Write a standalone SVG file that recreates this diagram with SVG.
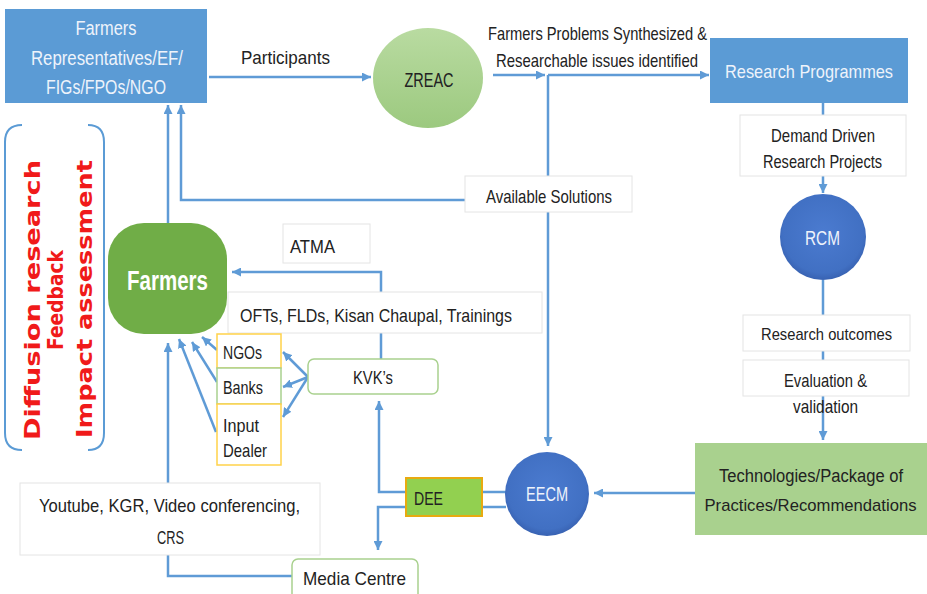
<svg xmlns="http://www.w3.org/2000/svg" width="927" height="594" viewBox="0 0 927 594">
  <style>
    text { font-family: "Liberation Sans", Arial, sans-serif; font-size: 19px; fill: #222222; }
    .c { text-anchor: middle; }
    .light { fill: #eef3fb; }
    .lg { font-size: 21px; }
    .f20 { font-size: 20px; }
    .f18 { font-size: 18px; }
    .f17 { font-size: 17px; }
    .side { font-family: "DejaVu Sans", Verdana, sans-serif; font-weight: bold; font-size: 21px; fill: #f01a1a; text-anchor: middle; }
    .big { font-weight: bold; font-size: 28px; fill: #ffffff; }
    .wire { fill: none; stroke: #5f9bd6; stroke-width: 2.5; }
    .arr { marker-end: url(#head); }
    .label { fill: #ffffff; stroke: #e4e4e4; stroke-width: 1; }
    .blue { fill: #5b9bd5; }
    .gold { fill: #ffffff; stroke: #ffd24a; stroke-width: 1.5; }
    .lgreen { fill: #ffffff; stroke: #a9d18e; stroke-width: 1.5; }
  </style>
  <defs>
    <marker id="head" viewBox="0 0 10 10" refX="10" refY="5" markerWidth="9" markerHeight="9" markerUnits="userSpaceOnUse" orient="auto">
      <path d="M0,0 L10,5 L0,10 z" fill="#5f9bd6"/>
    </marker>
    <linearGradient id="greenOval" x1="0" y1="0" x2="0" y2="1">
      <stop offset="0" stop-color="#b9dba1"/>
      <stop offset="1" stop-color="#9cc97f"/>
    </linearGradient>
    <radialGradient id="blueBall" cx="0.5" cy="0.45" r="0.55">
      <stop offset="0" stop-color="#4b7bd0"/>
      <stop offset="0.85" stop-color="#4170c3"/>
      <stop offset="1" stop-color="#3862b2"/>
    </radialGradient>
  </defs>

  <rect width="927" height="594" fill="#ffffff"/>

  <!-- side note: bracketed red caption -->
  <g id="side-note">
    <path d="M22,125 Q5,125 5,142 L5,433 Q5,450 22,450" fill="none" stroke="#5b9bd5" stroke-width="2"/>
    <path d="M88,125 Q104,125 104,142 L104,433 Q104,450 88,450" fill="none" stroke="#5b9bd5" stroke-width="2"/>
    <text class="side" transform="translate(40,300) rotate(-90)" textLength="280" lengthAdjust="spacingAndGlyphs">Diffusion research</text>
    <text class="side" transform="translate(63,300) rotate(-90)" textLength="100" lengthAdjust="spacingAndGlyphs">Feedback</text>
    <text class="side" transform="translate(92,299) rotate(-90)" textLength="278" lengthAdjust="spacingAndGlyphs">Impact assessment</text>
  </g>

  <!-- connectors -->
  <g id="connectors">
    <path class="wire arr" d="M209,77 H371"/>
    <path class="wire arr" d="M493,75 H545"/>
    <path class="wire arr" d="M548,75 H709"/>
    <path class="wire arr" d="M548,75 V446"/>
    <path class="wire" d="M823,103 V115"/>
    <path class="wire arr" d="M823,176 V193"/>
    <path class="wire" d="M823,280 V315"/>
    <path class="wire" d="M823,351 V360"/>
    <path class="wire arr" d="M823,396 V440"/>
    <path class="wire arr" d="M695,493 H594"/>
    <path class="wire" d="M482,492 H506"/>
    <path class="wire" d="M482,507 H506"/>
    <path class="wire arr" d="M406,492 H379 V401"/>
    <path class="wire arr" d="M406,507 H378 V550"/>
    <path class="wire arr" d="M168,224 V105"/>
    <path class="wire arr" d="M548,200 H181 V105"/>
    <path class="wire arr" d="M168,483 V343"/>
    <path class="wire" d="M168,555 V576 H292"/>
    <path class="wire arr" d="M381,359 V272 H232"/>
    <path class="wire arr" d="M308,377 L283,352"/>
    <path class="wire arr" d="M308,377 L283,387"/>
    <path class="wire arr" d="M308,377 L283,417"/>
    <path class="wire arr" d="M217,350 L202,337"/>
    <path class="wire arr" d="M217,382 L192,342"/>
    <path class="wire arr" d="M216,432 L179,339"/>
  </g>

  <g id="farmer-reps">
    <rect class="blue" x="5" y="9" width="202" height="94"/>
    <text class="c light f20" x="106" y="35" textLength="61" lengthAdjust="spacingAndGlyphs">Farmers</text>
    <text class="c light f20" x="107" y="65" textLength="152" lengthAdjust="spacingAndGlyphs">Representatives/EF/</text>
    <text class="c light f20" x="106" y="94" textLength="120" lengthAdjust="spacingAndGlyphs">FIGs/FPOs/NGO</text>
  </g>

  <g id="participants-label">
    <text class="c" x="285.5" y="64" textLength="89" lengthAdjust="spacingAndGlyphs">Participants</text>
  </g>

  <g id="zreac">
    <ellipse cx="428" cy="78" rx="55" ry="50" fill="url(#greenOval)"/>
    <text class="c lg" x="429" y="87" textLength="49" lengthAdjust="spacingAndGlyphs">ZREAC</text>
  </g>

  <g id="problems-label">
    <text class="c" x="597.5" y="40" textLength="219" lengthAdjust="spacingAndGlyphs">Farmers Problems Synthesized &amp;</text>
    <text class="c" x="597" y="67" textLength="202" lengthAdjust="spacingAndGlyphs">Researchable issues identified</text>
  </g>

  <g id="research-programmes">
    <rect class="blue" x="710" y="38" width="198" height="65"/>
    <text class="c light" x="809" y="78" textLength="168" lengthAdjust="spacingAndGlyphs">Research Programmes</text>
  </g>

  <g id="demand-driven">
    <rect class="label" x="740" y="115" width="166" height="61"/>
    <text class="c" x="823" y="142" textLength="104" lengthAdjust="spacingAndGlyphs">Demand Driven</text>
    <text class="c" x="822.5" y="168" textLength="119" lengthAdjust="spacingAndGlyphs">Research Projects</text>
  </g>

  <g id="available-solutions">
    <rect class="label" x="465" y="176" width="167" height="36"/>
    <text class="c" x="549" y="203" textLength="126" lengthAdjust="spacingAndGlyphs">Available Solutions</text>
  </g>

  <g id="rcm">
    <circle cx="823" cy="237" r="43" fill="url(#blueBall)"/>
    <text class="c light lg" x="822.5" y="245" textLength="35" lengthAdjust="spacingAndGlyphs">RCM</text>
  </g>

  <g id="research-outcomes">
    <rect class="label" x="743" y="315" width="167" height="36"/>
    <text class="c f17" x="826.5" y="340" textLength="131" lengthAdjust="spacingAndGlyphs">Research outcomes</text>
  </g>

  <g id="evaluation">
    <rect class="label" x="743" y="360" width="166" height="36"/>
    <text class="c" x="825.5" y="387" textLength="83" lengthAdjust="spacingAndGlyphs">Evaluation &amp;</text>
    <text class="c" x="825.5" y="413" textLength="65" lengthAdjust="spacingAndGlyphs">validation</text>
  </g>

  <g id="technologies">
    <rect x="695" y="443" width="232" height="92" fill="#a9d18e"/>
    <text class="c f18" x="811" y="482" textLength="184" lengthAdjust="spacingAndGlyphs">Technologies/Package of</text>
    <text class="c f17" x="810.5" y="511" textLength="212" lengthAdjust="spacingAndGlyphs">Practices/Recommendations</text>
  </g>

  <g id="eecm">
    <circle cx="547" cy="494" r="42" fill="url(#blueBall)"/>
    <text class="c light lg" x="547" y="501" textLength="42" lengthAdjust="spacingAndGlyphs">EECM</text>
  </g>

  <g id="dee">
    <rect x="406" y="478" width="76" height="38" fill="#92d050" stroke="#e8aa10" stroke-width="2"/>
    <text x="414" y="505" textLength="29" lengthAdjust="spacingAndGlyphs">DEE</text>
  </g>

  <g id="farmers">
    <rect x="108" y="223" width="119" height="111" rx="36" ry="36" fill="#70ad47"/>
    <text class="c big" x="167.5" y="290" textLength="81" lengthAdjust="spacingAndGlyphs">Farmers</text>
  </g>

  <g id="atma">
    <rect class="label" x="283" y="224" width="87" height="39"/>
    <text class="c" x="312.5" y="253" textLength="45" lengthAdjust="spacingAndGlyphs">ATMA</text>
  </g>

  <g id="extension-activities">
    <rect class="label" x="228" y="292" width="314" height="41"/>
    <text class="c" x="376" y="322" textLength="272" lengthAdjust="spacingAndGlyphs">OFTs, FLDs, Kisan Chaupal, Trainings</text>
  </g>

  <g id="ngos">
    <rect class="gold" x="217" y="334" width="64" height="34"/>
    <text x="223" y="359" textLength="39" lengthAdjust="spacingAndGlyphs">NGOs</text>
  </g>

  <g id="banks">
    <rect class="lgreen" x="217" y="368" width="64" height="36"/>
    <text x="223" y="394" textLength="40" lengthAdjust="spacingAndGlyphs">Banks</text>
  </g>

  <g id="input-dealer">
    <rect class="gold" x="217" y="404" width="64" height="61"/>
    <text x="223" y="432" textLength="36" lengthAdjust="spacingAndGlyphs">Input</text>
    <text x="223" y="457" textLength="44" lengthAdjust="spacingAndGlyphs">Dealer</text>
  </g>

  <g id="kvk">
    <rect class="lgreen" x="308" y="359" width="130" height="35" rx="6" ry="6"/>
    <text class="c" x="373" y="384" textLength="40" lengthAdjust="spacingAndGlyphs">KVK’s</text>
  </g>

  <g id="media-channels">
    <rect class="label" x="20" y="483" width="300" height="72"/>
    <text class="c" x="169.5" y="512" textLength="261" lengthAdjust="spacingAndGlyphs">Youtube, KGR, Video conferencing,</text>
    <text class="c" x="170.5" y="544" textLength="27" lengthAdjust="spacingAndGlyphs">CRS</text>
  </g>

  <g id="media-centre">
    <rect class="lgreen" x="292" y="559" width="126" height="42" rx="6" ry="6"/>
    <text class="c" x="354.5" y="585" textLength="103" lengthAdjust="spacingAndGlyphs">Media Centre</text>
  </g>
</svg>
